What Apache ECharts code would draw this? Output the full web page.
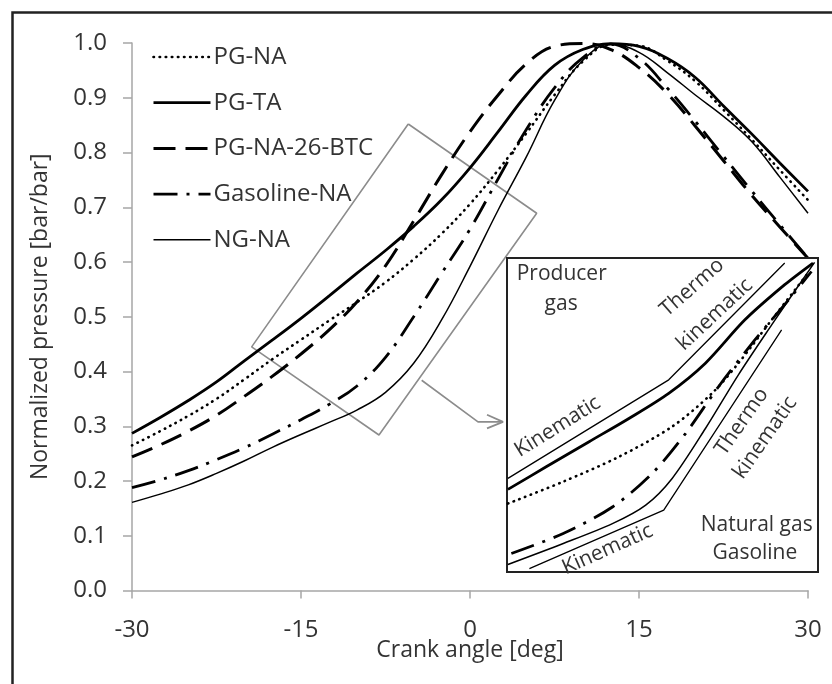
<!DOCTYPE html>
<html>
<head>
<meta charset="utf-8">
<script src="https://cdn.jsdelivr.net/npm/echarts@6/dist/echarts.min.js"></script>
<style>
  html, body { margin: 0; padding: 0; background: #fff; }
  #chart { width: 832px; height: 684px; }
</style>
</head>
<body>
<div id="chart"></div>
<script>
// Crank angle samples [deg]
const crankAngle = [-30, -27.5, -25, -22.5, -20, -17.5, -15, -12.5, -10, -7.5, -5, -2.5, 0,
                    2.5, 5, 7.5, 10, 12.5, 15, 17.5, 20, 22.5, 25, 27.5, 30];

// Normalized in-cylinder pressure [bar/bar]
const pgNA       = [0.265, 0.291, 0.319, 0.350, 0.386, 0.423, 0.458, 0.493, 0.527, 0.563, 0.605, 0.652, 0.706,
                    0.768, 0.835, 0.905, 0.966, 0.997, 0.995, 0.968, 0.930, 0.878, 0.824, 0.768, 0.713];
const pgTA       = [0.287, 0.316, 0.347, 0.381, 0.420, 0.458, 0.497, 0.538, 0.580, 0.621, 0.665, 0.714, 0.772,
                    0.838, 0.905, 0.959, 0.988, 0.999, 0.994, 0.972, 0.937, 0.885, 0.834, 0.781, 0.729];
const pgNA26BTC  = [0.244, 0.266, 0.291, 0.320, 0.355, 0.392, 0.432, 0.476, 0.528, 0.593, 0.675, 0.760, 0.838,
                    0.905, 0.962, 0.994, 0.999, 0.988, 0.955, 0.908, 0.848, 0.785, 0.722, 0.664, 0.607];
const gasolineNA = [0.188, 0.202, 0.219, 0.239, 0.261, 0.286, 0.312, 0.340, 0.374, 0.426, 0.500, 0.580, 0.660,
                    0.752, 0.842, 0.918, 0.973, 0.998, 0.972, 0.918, 0.857, 0.793, 0.730, 0.668, 0.607];
const ngNA       = [0.161, 0.176, 0.193, 0.214, 0.237, 0.262, 0.285, 0.307, 0.330, 0.362, 0.415, 0.495, 0.592,
                    0.695, 0.792, 0.895, 0.968, 0.998, 0.983, 0.946, 0.905, 0.866, 0.820, 0.755, 0.689];

const xTicks = [-30, -15, 0, 15, 30];
const yTicks = [0.0, 0.1, 0.2, 0.3, 0.4, 0.5, 0.6, 0.7, 0.8, 0.9, 1.0];

// Zoom window drawn on the main plot (crank angle, pressure)
const zoomWindow = [[-5.48, 0.852], [5.92, 0.689], [-8.08, 0.284], [-19.38, 0.445], [-5.48, 0.852]];
// Pointer from the zoom window to the detail panel
const pointerShaft = [[-4.29, 0.384], [0.71, 0.308], [2.93, 0.308]];
const pointerHead  = [[1.51, 0.321], [2.93, 0.308], [1.51, 0.296]];

// Detail panel: curves inside the zoom window, in panel units (0..100)
const detailPgTA     = [[0.3, 26.3], [12.6, 33.5], [26.4, 41.5], [39.2, 48.9], [52.0, 56.9], [63.8, 66.5],
                        [76.5, 80.3], [89.3, 91.5], [98.4, 98.4]];
const detailPgNA     = [[0.3, 21.8], [17.9, 28.7], [36.0, 36.7], [53.1, 46.3], [65.9, 56.9], [74.4, 66.5],
                        [85.1, 80.3], [96.8, 95.2]];
const detailGasoline = [[1.4, 5.9], [17.9, 12.2], [33.9, 20.7], [46.7, 31.4], [57.4, 44.1], [68.0, 59.0],
                        [79.7, 73.9], [91.5, 87.8], [97.9, 95.7]];
const detailNG       = [[0.3, 2.4], [17.9, 9.0], [33.9, 15.4], [44.6, 21.3], [53.1, 29.8], [63.8, 45.7],
                        [74.4, 62.8], [85.1, 78.7], [93.6, 91.0], [98.9, 98.6]];
// Phase guide lines (kinematic / thermo-kinematic)
const guideProducer = [[0.3, 29.8], [52.0, 61.2], [89.3, 98.4]];
const guideNatural  = [[7.2, 1.1], [50.4, 19.7], [88.3, 77.1]];

const detailLabels = [
  { text: 'Producer',    u: 17.6, v: 94.9, rot: 0 },
  { text: 'gas',         u: 17.4, v: 85.5, rot: 0 },
  { text: 'Thermo',      u: 59.5, v: 90.6, rot: 41 },
  { text: 'kinematic',   u: 66.8, v: 82.0, rot: 43 },
  { text: 'Kinematic',   u: 16.3, v: 46.3, rot: 32 },
  { text: 'Thermo',      u: 75.5, v: 47.9, rot: 55 },
  { text: 'kinematic',   u: 83.0, v: 42.8, rot: 55 },
  { text: 'Kinematic',   u: 32.3, v: 7.2,  rot: 24 },
  { text: 'Natural gas', u: 80.3, v: 14.9, rot: 0 },
  { text: 'Gasoline',    u: 79.7, v: 5.9,  rot: 0 }
];

const FONT = "'Open Sans', 'Noto Sans', sans-serif";
const TEXT = '#333';
const AXIS = '#a6a6a6';

const zip = (xs, ys) => xs.map((x, i) => [x, ys[i]]);

const styles = {
  dotted:  { color: '#000', width: 2.6, type: [0.5, 5.6], cap: 'round' },
  thick:   { color: '#000', width: 2.8, type: 'solid' },
  dashed:  { color: '#000', width: 3.0, type: [22, 10] },
  dashDot: { color: '#000', width: 2.8, type: [24, 9, 3, 9] },
  thin:    { color: '#000', width: 1.5, type: 'solid' }
};

const seriesDefs = [
  { name: 'PG-NA',        values: pgNA,       style: styles.dotted },
  { name: 'PG-TA',        values: pgTA,       style: styles.thick },
  { name: 'PG-NA-26-BTC', values: pgNA26BTC,  style: styles.dashed },
  { name: 'Gasoline-NA',  values: gasolineNA, style: styles.dashDot },
  { name: 'NG-NA',        values: ngNA,       style: styles.thin }
];

function mainLine(def) {
  return {
    name: def.name, type: 'line', xAxisIndex: 0, yAxisIndex: 0,
    data: zip(crankAngle, def.values), smooth: 0.4, symbol: 'none',
    lineStyle: def.style, itemStyle: { color: '#000' }, z: 3
  };
}
function detailLine(name, points, style, smooth) {
  return {
    name, type: 'line', xAxisIndex: 1, yAxisIndex: 1,
    data: points, smooth: smooth ? 0.3 : false, symbol: 'none',
    lineStyle: style, itemStyle: { color: '#000' }, z: 5, silent: true
  };
}

const chart = echarts.init(document.getElementById('chart'), null, { renderer: 'canvas' });

chart.setOption({
  animation: false,
  backgroundColor: '#fff',
  textStyle: { fontFamily: FONT },
  grid: [
    { left: 132, right: 24, top: 43, bottom: 93.5, outerBoundsMode: 'none', containLabel: false },
    { left: 507, top: 258, width: 311, height: 314, show: true, backgroundColor: '#fff',
      borderColor: '#222', borderWidth: 2, outerBoundsMode: 'none', containLabel: false, z: 4 }
  ],
  xAxis: [
    {
      type: 'value', gridIndex: 0, min: xTicks[0], max: xTicks[xTicks.length - 1], interval: 15,
      name: 'Crank angle [deg]', nameLocation: 'middle', nameGap: 48, nameMoveOverlap: false,
      nameTextStyle: { fontSize: 23, color: TEXT, fontFamily: FONT },
      axisLine: { show: true, onZero: false, lineStyle: { color: AXIS, width: 1.5 } },
      axisTick: { show: true, length: 8, lineStyle: { color: AXIS, width: 1.5 } },
      axisLabel: { fontSize: 24, color: TEXT, margin: 28, fontFamily: FONT },
      splitLine: { show: false }
    },
    { type: 'value', gridIndex: 1, min: 0, max: 100, show: false }
  ],
  yAxis: [
    {
      type: 'value', gridIndex: 0, min: yTicks[0], max: yTicks[yTicks.length - 1], interval: 0.1,
      name: 'Normalized pressure [bar/bar]', nameLocation: 'middle', nameGap: 80, nameMoveOverlap: false,
      nameTextStyle: { fontSize: 23, color: TEXT, fontFamily: FONT },
      axisLine: { show: true, onZero: false, lineStyle: { color: AXIS, width: 1.5 } },
      axisTick: { show: true, length: 9, lineStyle: { color: AXIS, width: 1.5 } },
      axisLabel: { fontSize: 24, color: TEXT, margin: 25, fontFamily: FONT,
                   formatter: v => v.toFixed(1) },
      splitLine: { show: false }
    },
    { type: 'value', gridIndex: 1, min: 0, max: 100, show: false }
  ],
  legend: {
    data: seriesDefs.map(d => ({ name: d.name, lineStyle: { width: d.style.width } })),
    orient: 'vertical', left: 147, top: 40,
    itemWidth: 57, itemHeight: 14, itemGap: 21.7,
    itemStyle: { opacity: 0, borderWidth: 0 },
    textStyle: { fontSize: 24, color: TEXT, fontFamily: FONT, lineHeight: 24, padding: [0, 0, 0, -2] },
    selectedMode: false
  },
  series: [
    ...seriesDefs.map(mainLine),
    { name: 'zoom window', type: 'line', data: zoomWindow, symbol: 'none', silent: true,
      lineStyle: { color: '#8c8c8c', width: 1.6 }, z: 2 },
    { name: 'pointer', type: 'line', data: pointerShaft, symbol: 'none', silent: true,
      lineStyle: { color: '#8c8c8c', width: 1.6 }, z: 2 },
    { name: 'pointer head', type: 'line', data: pointerHead, symbol: 'none', silent: true,
      lineStyle: { color: '#8c8c8c', width: 1.8 }, z: 2 },
    detailLine('guide producer', guideProducer, { color: '#000', width: 1.3 }, false),
    detailLine('guide natural', guideNatural, { color: '#000', width: 1.3 }, false),
    detailLine('detail PG-TA', detailPgTA, styles.thick, true),
    detailLine('detail PG-NA', detailPgNA, styles.dotted, true),
    detailLine('detail Gasoline', detailGasoline, styles.dashDot, true),
    detailLine('detail NG', detailNG, styles.thin, true)
  ]
});

// Labels inside the detail panel and the outer frame
const graphics = detailLabels.map(l => {
  const p = chart.convertToPixel({ xAxisIndex: 1, yAxisIndex: 1 }, [l.u, l.v]);
  return {
    type: 'text', x: p[0], y: p[1], rotation: l.rot * Math.PI / 180, z: 10, silent: true,
    style: { text: l.text, fontSize: 21, fontFamily: FONT, fill: TEXT,
             align: 'center', verticalAlign: 'middle', textAlign: 'center', textVerticalAlign: 'middle' }
  };
});
graphics.push({
  type: 'rect', left: 10, top: 10, z: 20, silent: true,
  shape: { x: 0, y: 0, width: 860, height: 720 },
  style: { fill: null, stroke: '#222', lineWidth: 2.5 }
});
chart.setOption({ graphic: graphics });
</script>
</body>
</html>
